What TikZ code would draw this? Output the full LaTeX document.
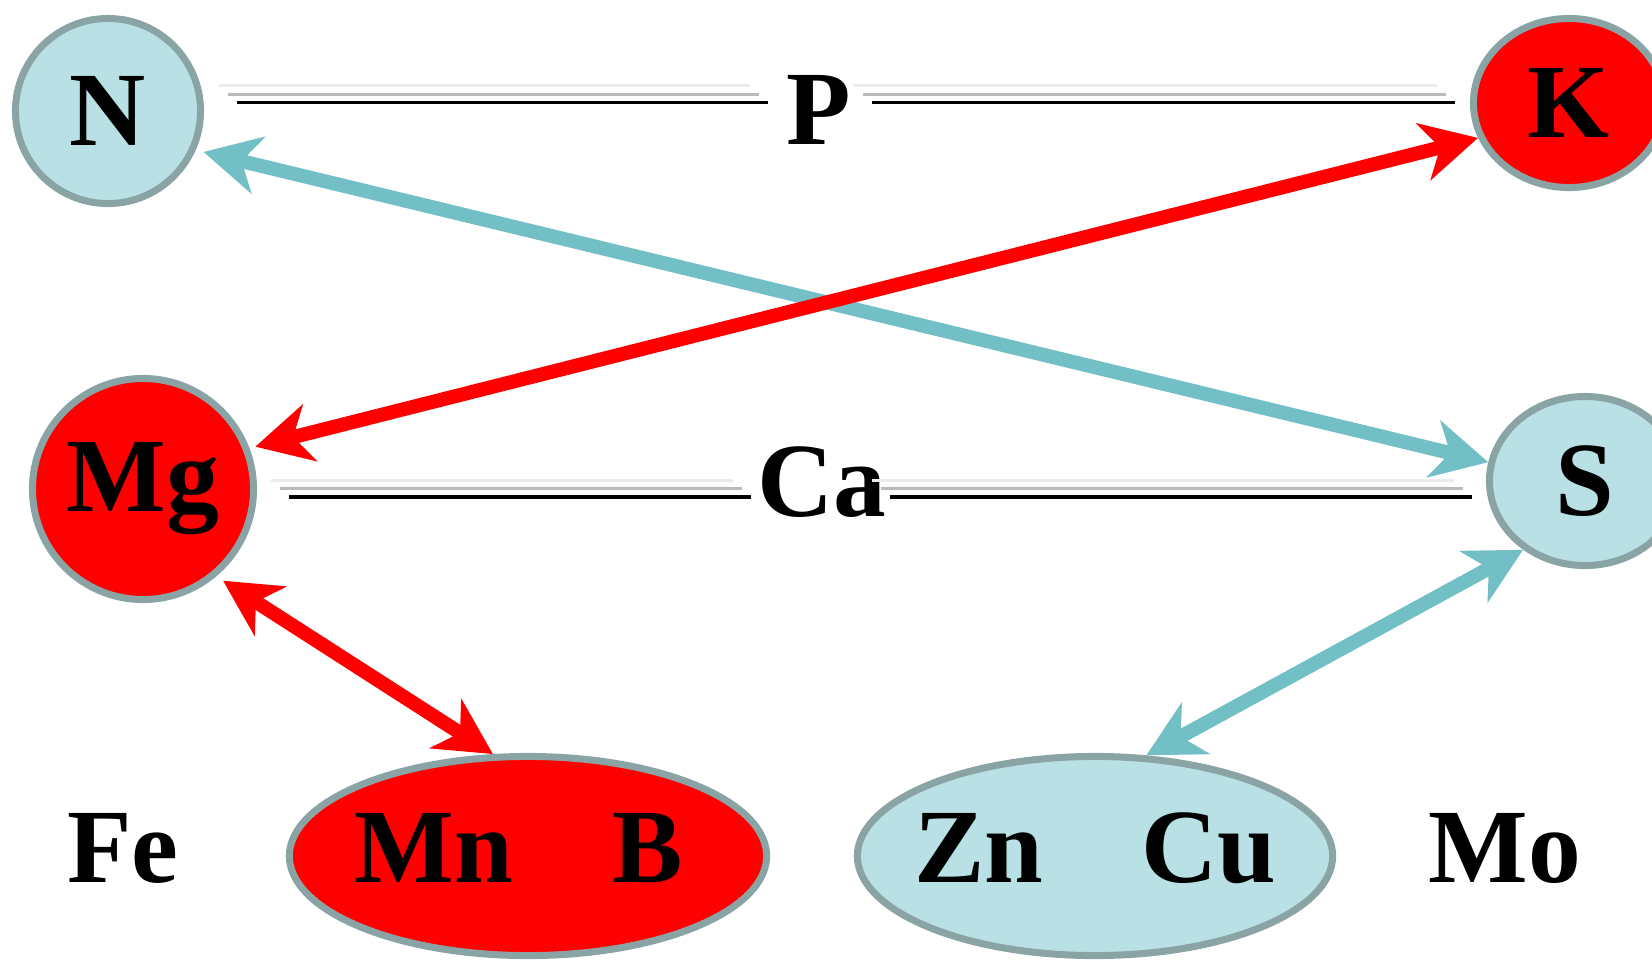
\documentclass[tikz,border=0pt]{standalone}
\usepackage{fontspec}
\setmainfont{Liberation Serif}
\usetikzlibrary{arrows.meta,shapes.geometric}
\definecolor{cellblue}{HTML}{B9E0E4}
\definecolor{rimgray}{HTML}{8AA4A6}
\definecolor{linkblue}{HTML}{72BFC5}
\definecolor{linkred}{HTML}{FF0000}
\tikzset{
  elem/.style={font=\fontsize{30}{36}\selectfont\bfseries,inner sep=0pt},
  ball/.style={elem,circle,draw=rimgray,line width=0.07cm},
  oval/.style={elem,ellipse,draw=rimgray,line width=0.07cm},
  shadowline/.style={draw=black,line width=0.035cm,
    preaction={draw=black!8,line width=0.03cm,transform canvas={shift={(-18,-17)}}},
    preaction={draw=black!27,line width=0.032cm,transform canvas={shift={(-9,-8.5)}}}},
  link/.style={line width=0.14cm,
    arrows={Stealth[length=0.56cm,width=0.58cm,inset=0.17cm]-Stealth[length=0.56cm,width=0.58cm,inset=0.17cm]}}
}
\begin{document}
\begin{tikzpicture}[x=0.01cm,y=-0.01cm]
\useasboundingbox (0,0) rectangle (1652,960);
% element nodes
\node[ball,fill=cellblue,minimum size=1.85cm] (N) at (108,111) {N};
\node[oval,fill=linkred,minimum width=1.91cm,minimum height=1.69cm] (K) at (1569,103) {K};
\node[ball,fill=linkred,minimum size=2.21cm] (Mg) at (143,489) {Mg};
\node[oval,fill=cellblue,minimum width=1.91cm,minimum height=1.69cm] (S) at (1585,481) {S};
\node[oval,fill=linkred,minimum width=4.77cm,minimum height=1.99cm] (mnb) at (528,856) {};
\node[oval,fill=cellblue,minimum width=4.75cm,minimum height=1.99cm] (zncu) at (1095,856) {};
\node[elem,anchor=base] (Mn) at (434,882) {Mn};
\node[elem,anchor=base] (B) at (648,882) {B};
\node[elem,anchor=base] (Zn) at (979,882) {Zn};
\node[elem,anchor=base] (Cu) at (1209,882) {Cu};
\node[elem,anchor=base] (Fe) at (123,882) {Fe};
\node[elem,anchor=base] (Mo) at (1505,882) {Mo};
\node[elem,anchor=base] (P) at (819,144) {P};
\node[elem,anchor=base] (Ca) at (822,516) {Ca};
% shadowed lines
\coordinate (pL) at ([shift={(33,-8.3)}]N.east);
\draw[shadowline,shorten >=0.18cm] (pL) -- (pL -| P.west);
\draw[shadowline,shorten <=0.2cm,shorten >=0.15cm] (pL -| P.east) -- (pL -| K.west);
\coordinate (cL) at ([shift={(32,8)}]Mg.east);
\draw[shadowline,shorten >=0.056cm] (cL) -- (cL -| Ca.west);
\draw[shadowline,shorten <=0.026cm,shorten >=0.14cm] (cL -| Ca.east) -- (cL -| S.west);
% arrows
\draw[link,draw=linkblue,shorten <=0.08cm] (N.-24) -- (S.169);
\draw[link,draw=linkblue] (S.228) -- (zncu.63);
\draw[link,draw=linkred,shorten <=0.06cm] (Mg.21) -- (K.201);
\draw[link,draw=linkred,shorten <=0.08cm] (Mg.-50) -- (mnb.109);
\end{tikzpicture}
\end{document}
